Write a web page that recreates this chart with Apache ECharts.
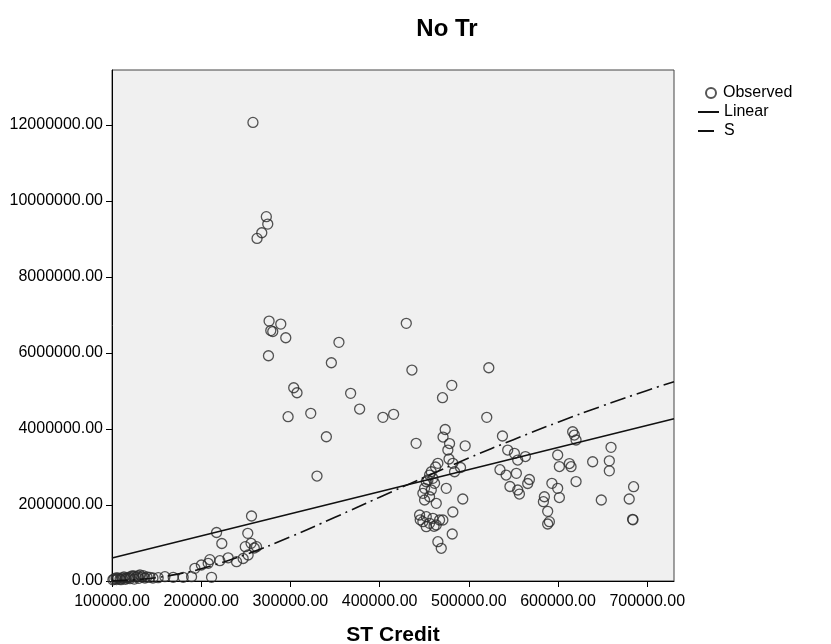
<!DOCTYPE html>
<html>
<head>
<meta charset="utf-8">
<script src="https://cdn.jsdelivr.net/npm/echarts@6/dist/echarts.min.js"></script>
<style>
  html, body { margin: 0; padding: 0; background: #ffffff; }
  #chart { width: 831px; height: 644px; }
</style>
</head>
<body>
<div id="chart"></div>
<script>
// Observed values (ST Credit, No Tr)
const stCredit = [
  258000, 273000, 274600, 267900, 262600, 276100, 289200, 278000, 280200, 294800,
  354400, 275400, 345900, 429900, 436200, 522400, 480900, 470500, 303700, 307400,
  367500, 377600, 297400, 322800, 403700, 415700, 520100, 340300, 440900, 329800,
  473500, 471100, 478400, 495900, 476500, 477800, 465300, 482100, 462700, 490700,
  484000, 457900, 456000, 459700, 452300, 461600, 450400, 457900, 474700, 448500,
  456000, 450400, 463500, 493200, 482100, 452300, 459700, 467200, 448500, 456000,
  463500, 470900, 452300, 481400, 465300, 469100, 444800, 454100, 445500, 461000,
  537700, 543600, 551100, 563400, 554800, 534900, 541800, 553300, 567900, 566000,
  546100, 554800, 556700,
  616400, 618300, 620200, 599600, 601500, 612700, 614600, 638800, 659400, 657500,
  657500, 620200, 593100, 599600, 601500, 584700, 583600, 588400, 590300, 588400,
  648500, 679800, 684700, 683600, 684000,
  256400, 217200, 223100, 252200, 255900, 249400, 259500, 262000, 252600, 247000,
  239600, 230200, 220900, 209700, 207800, 200200, 192900, 211600, 189200, 179800,
  168600, 159300, 151800, 142500, 131300,
  102200, 104500, 106700, 109000, 111200, 113400, 115700, 117900, 120100, 122400,
  124600, 126900, 129100, 133600, 136900, 139200, 145900, 101000, 105000, 110000,
  115000, 120000, 125000, 130000, 135000
];
const noTr = [
  12070000, 9590000, 9395000, 9166000, 9018000, 6842000, 6763000, 6592000, 6566000, 6403000,
  6282000, 5929000, 5745000, 6782000, 5553000, 5613000, 5150000, 4824000, 5087000, 4955000,
  4939000, 4526000, 4324000, 4413000, 4308000, 4387000, 4308000, 3797000, 3624000, 2763000,
  3987000, 3789000, 3618000, 3558000, 3447000, 3211000, 3097000, 3097000, 3000000, 2987000,
  2876000, 2876000, 2789000, 2703000, 2613000, 2571000, 2439000, 2395000, 2439000, 2308000,
  2218000, 2132000, 2045000, 2158000, 1816000, 1692000, 1650000, 1605000, 1561000, 1518000,
  1474000, 1605000, 1429000, 1237000, 1034000, 861000, 1737000, 2658000, 1610000, 1440000,
  3816000, 3447000, 3361000, 3276000, 3184000, 2929000, 2789000, 2834000, 2671000, 2566000,
  2487000, 2395000, 2289000,
  3929000, 3842000, 3711000, 3316000, 3013000, 3092000, 3008000, 3139000, 3518000, 3163000,
  2900000, 2618000, 2571000, 2439000, 2197000, 2218000, 2087000, 1834000, 1561000, 1500000,
  2132000, 2158000, 2482000, 1624000, 1610000,
  1711000, 1276000, 987000, 1255000, 992000, 903000, 868000, 903000, 684000, 592000,
  508000, 611000, 534000, 561000, 466000, 421000, 334000, 97000, 113000, 97000,
  97000, 113000, 87000, 97000, 158000,
  53000, 79000, 79000, 53000, 79000, 105000, 79000, 79000, 105000, 132000,
  132000, 105000, 132000, 105000, 79000, 105000, 79000, 30000, 40000, 35000,
  45000, 60000, 50000, 70000, 140000
];

// Linear fit line
const linearX = [100000, 730000];
const linearY = [605000, 4270000];

// S curve fit
const sCurveX = [100000, 125000, 150000, 175000, 200000, 250000, 300000, 350000, 400000, 450000, 500000, 550000, 600000, 650000, 700000, 730000];
const sCurveY = [7000, 32500, 90300, 187400, 324200, 697900, 1163500, 1677000, 2206000, 2728000, 3237000, 3720000, 4180000, 4611000, 5015000, 5246000];

// Axis ticks
const xMin = 100000, xMax = 730000, xInterval = 100000;
const yMin = 0, yMax = 13450000, yInterval = 2000000;

const FONT = 'Arial, "Liberation Sans", sans-serif';

const observed = stCredit.map((x, i) => [x, noTr[i]]);
const linear = linearX.map((x, i) => [x, linearY[i]]);
const sCurve = sCurveX.map((x, i) => [x, sCurveY[i]]);

const chart = echarts.init(document.getElementById('chart'), null, { renderer: 'canvas' });

const fmt = (interval) => (v) => (Math.abs(v % interval) < 1e-6 ? v.toFixed(2) : '');

chart.setOption({
  animation: false,
  backgroundColor: '#ffffff',
  title: {
    text: 'No Tr',
    left: 442,
    top: 12,
    textAlign: 'center',
    textStyle: { fontFamily: FONT, fontSize: 24, fontWeight: 'bold', color: '#000' }
  },
  legend: [
    {
      data: ['Observed'],
      orient: 'vertical',
      left: 705,
      top: 85,
      padding: 0,
      itemWidth: 14,
      itemHeight: 10,
      itemGap: 1,
      textStyle: { fontFamily: FONT, fontSize: 16, color: '#000' }
    },
    {
      data: ['Linear', 'S'],
      orient: 'vertical',
      left: 697,
      top: 104,
      padding: 0,
      itemWidth: 21,
      itemHeight: 10,
      itemGap: 3,
      itemStyle: { opacity: 0 },
      textStyle: { fontFamily: FONT, fontSize: 16, color: '#000' }
    }
  ],
  grid: {
    left: 112,
    right: 157,
    top: 70,
    bottom: 63,
    outerBoundsMode: 'none',
    containLabel: false,
    show: true,
    backgroundColor: '#f0f0f0',
    borderColor: '#444',
    borderWidth: 1
  },
  xAxis: {
    type: 'value',
    min: xMin,
    max: xMax,
    interval: xInterval,
    name: 'ST Credit',
    nameLocation: 'middle',
    nameGap: 44,
    nameTextStyle: { fontFamily: FONT, fontSize: 21, fontWeight: 'bold', color: '#000' },
    axisLine: { show: true, lineStyle: { color: '#000', width: 1 } },
    axisTick: { show: true, length: 6, lineStyle: { color: '#000' } },
    axisLabel: {
      fontFamily: FONT, fontSize: 16, color: '#000', margin: 13,
      formatter: fmt(xInterval), showMaxLabel: false
    },
    splitLine: { show: false }
  },
  yAxis: {
    type: 'value',
    min: yMin,
    max: yMax,
    interval: yInterval,
    axisLine: { show: true, lineStyle: { color: '#000', width: 1 } },
    axisTick: { show: true, length: 6, lineStyle: { color: '#000' } },
    axisLabel: {
      fontFamily: FONT, fontSize: 16, color: '#000', margin: 9,
      formatter: fmt(yInterval), showMaxLabel: false
    },
    splitLine: { show: false }
  },
  series: [
    {
      name: 'Observed',
      type: 'scatter',
      data: observed,
      symbol: 'circle',
      symbolSize: 10,
      itemStyle: { color: 'rgba(0,0,0,0)', borderColor: '#2a2a2a', borderWidth: 1.3 },
      z: 2
    },
    {
      name: 'Linear',
      type: 'line',
      data: linear,
      symbol: 'none',
      lineStyle: { color: '#111', width: 1.6, type: 'solid' },
      itemStyle: { color: '#111' },
      z: 3
    },
    {
      name: 'S',
      type: 'line',
      data: sCurve,
      symbol: 'none',
      smooth: true,
      lineStyle: { color: '#111', width: 1.6, type: [16, 5, 2, 5] },
      itemStyle: { color: '#111' },
      z: 3
    }
  ]
});
</script>
</body>
</html>
